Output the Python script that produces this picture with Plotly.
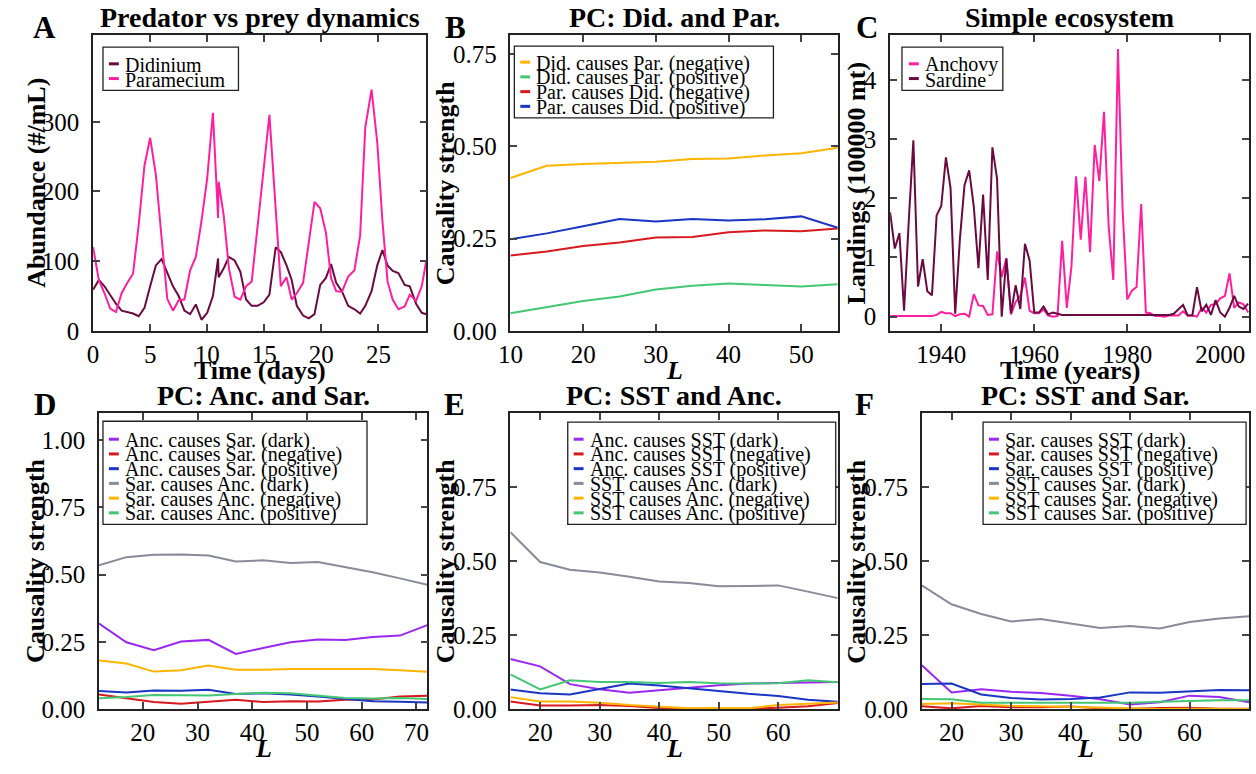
import plotly.graph_objects as go

W, H = 1256, 774
FONT = "Liberation Serif"

# ---------------- Panel A: predator vs prey ----------------
time_days = [0, 0.5, 1, 1.5, 2, 2.5, 3, 3.5, 4, 4.5, 5, 5.5, 6, 6.5, 7, 7.5, 8, 8.5, 9, 9.5,
             10, 10.5, 10.95, 11.0, 11.45, 11.9, 12.4, 12.9, 13.4, 13.9, 14.4, 14.95, 15.45,
             16.0, 16.45, 16.95, 17.4, 17.85, 18.4, 18.9, 19.4, 19.9, 20.4, 20.85, 21.3, 21.8,
             22.35, 22.9, 23.4, 23.85, 24.4, 24.9, 25.35, 25.8, 26.25, 26.75, 27.3, 27.75,
             28.3, 28.8, 29.2]
didinium = [59, 73, 64, 52, 39, 29, 27, 25, 21, 33, 64, 94, 103, 83, 64, 50, 29, 24, 38, 16,
            26, 50, 104, 77, 90, 106, 101, 85, 45, 36, 36, 41, 52, 120, 113, 94, 73, 36, 22, 18,
            24, 66, 76, 96, 69, 57, 36, 31, 25, 36, 57, 94, 116, 94, 86, 83, 66, 64, 39, 26, 24]
paramecium = [120, 73, 54, 32, 27, 54, 69, 82, 153, 237, 277, 224, 134, 46, 29, 44, 45, 87, 106,
              158, 219, 313, 162, 214, 165, 90, 49, 45, 64, 71, 148, 230, 310, 175, 64, 77, 45,
              54, 69, 127, 185, 176, 141, 76, 57, 56, 78, 87, 137, 292, 346, 270, 158, 71, 45,
              31, 35, 52, 43, 64, 101]

# ---------------- Panel B: PC Did. and Par. ----------------
L_B = [10, 15, 20, 25, 30, 35, 40, 45, 50, 55]
did_par_neg = [0.414, 0.447, 0.452, 0.454, 0.458, 0.465, 0.467, 0.475, 0.481, 0.496]
did_par_pos = [0.048, 0.065, 0.081, 0.093, 0.112, 0.122, 0.128, 0.124, 0.120, 0.126]
par_did_neg = [0.204, 0.215, 0.230, 0.239, 0.253, 0.254, 0.267, 0.272, 0.270, 0.277]
par_did_pos = [0.248, 0.264, 0.283, 0.303, 0.296, 0.303, 0.299, 0.302, 0.310, 0.279]

# ---------------- Panel C: anchovy / sardine landings ----------------
years = list(range(1929, 2007))
anchovy = [0.01, 0.01, 0.01, 0.01, 0.01, 0.01, 0.01, 0.01, 0.01, 0.01,
           0.03, 0.08, 0.06, 0.06, 0.01, 0.04, 0.05, 0.0, 0.38, 0.19,
           0.18, 0.03, 0.04, 1.10, 0.67, 0.99, 0.04, 0.25, 0.35, 0.66,
           0.10, 0.06, 0.06, 0.12, 0.02, 0.0, 0.01, 1.28, 0.15, 0.85,
           2.37, 1.30, 2.36, 1.09, 2.90, 2.29, 3.46, 1.53, 0.62, 4.52,
           1.81, 0.29, 0.44, 0.50, 1.90, 0.07, 0.06, 0.01, 0.01, 0.0,
           0.02, 0.02, 0.02, 0.09, 0.02, 0.02, 0.0, 0.15, 0.07, 0.20,
           0.21, 0.31, 0.35, 0.73, 0.15, 0.24, 0.21, 0.07]
sardine = [1.76, 1.15, 1.41, 0.10, 1.60, 2.98, 0.51, 0.97, 0.43, 0.36,
           1.71, 1.87, 2.69, 2.17, 0.05, 1.30, 2.22, 2.47, 1.86, 0.82,
           2.06, 0.62, 2.86, 2.33, 0.0, 0.98, 0.06, 0.53, 0.13, 1.23,
           0.95, 0.07, 0.07, 0.17, 0.04, 0.07, 0.05, 0.03, 0.03, 0.03,
           0.03, 0.03, 0.03, 0.03, 0.03, 0.03, 0.03, 0.03, 0.03, 0.03,
           0.03, 0.03, 0.03, 0.03, 0.03, 0.03, 0.03, 0.03, 0.03, 0.03,
           0.03, 0.05, 0.12, 0.20, 0.02, 0.02, 0.50, 0.09, 0.20, 0.03,
           0.28, 0.07, 0.0, 0.15, 0.35, 0.17, 0.13, 0.22]

# ---------------- Panel D: PC Anc. and Sar. ----------------
L_D = [12, 17, 22, 27, 32, 37, 42, 47, 52, 57, 62, 67, 72]
anc_sar_dark = [0.318, 0.248, 0.219, 0.251, 0.257, 0.205, 0.227, 0.248, 0.258, 0.257, 0.268, 0.273, 0.312]
anc_sar_neg = [0.054, 0.040, 0.026, 0.019, 0.026, 0.034, 0.026, 0.029, 0.028, 0.034, 0.035, 0.046, 0.049]
anc_sar_pos = [0.067, 0.061, 0.069, 0.068, 0.071, 0.056, 0.058, 0.054, 0.046, 0.037, 0.029, 0.027, 0.024]
sar_anc_dark = [0.535, 0.565, 0.574, 0.575, 0.571, 0.549, 0.553, 0.543, 0.547, 0.529, 0.509, 0.486, 0.462]
sar_anc_neg = [0.180, 0.169, 0.139, 0.144, 0.162, 0.146, 0.146, 0.149, 0.149, 0.149, 0.149, 0.144, 0.138]
sar_anc_pos = [0.040, 0.044, 0.052, 0.052, 0.050, 0.056, 0.060, 0.058, 0.049, 0.041, 0.039, 0.041, 0.037]

# ---------------- Panel E: PC SST and Anc. ----------------
L_EF = [15, 20, 25, 30, 35, 40, 45, 50, 55, 60, 65, 70]
anc_sst_dark = [0.169, 0.144, 0.084, 0.067, 0.055, 0.064, 0.073, 0.080, 0.086, 0.087, 0.088, 0.091]
anc_sst_neg = [0.025, 0.012, 0.012, 0.013, 0.010, 0.003, 0.001, 0.001, 0.001, 0.004, 0.009, 0.020]
anc_sst_pos = [0.066, 0.053, 0.049, 0.067, 0.086, 0.079, 0.069, 0.060, 0.051, 0.044, 0.031, 0.024]
sst_anc_dark = [0.598, 0.497, 0.471, 0.462, 0.447, 0.431, 0.426, 0.415, 0.416, 0.418, 0.397, 0.375]
sst_anc_neg = [0.040, 0.025, 0.025, 0.021, 0.013, 0.007, 0.002, 0.003, 0.002, 0.013, 0.018, 0.022]
sst_anc_pos = [0.117, 0.066, 0.097, 0.091, 0.091, 0.088, 0.091, 0.087, 0.086, 0.087, 0.097, 0.090]

# ---------------- Panel F: PC SST and Sar. ----------------
sar_sst_dark = [0.148, 0.056, 0.067, 0.058, 0.054, 0.045, 0.033, 0.015, 0.023, 0.045, 0.040, 0.023]
sar_sst_neg = [0.009, 0.002, 0.010, 0.006, 0.006, 0.008, 0.002, 0.001, 0.003, 0.004, 0.001, 0.001]
sar_sst_pos = [0.084, 0.086, 0.049, 0.037, 0.032, 0.034, 0.039, 0.056, 0.055, 0.060, 0.064, 0.063]
sst_sar_dark = [0.418, 0.354, 0.321, 0.296, 0.304, 0.289, 0.274, 0.281, 0.272, 0.294, 0.306, 0.314]
sst_sar_neg = [0.017, 0.019, 0.015, 0.010, 0.009, 0.007, 0.003, 0.001, 0.0, 0.001, 0.0, 0.0]
sst_sar_pos = [0.034, 0.033, 0.021, 0.021, 0.021, 0.020, 0.020, 0.021, 0.024, 0.027, 0.029, 0.029]

# ---------------- styles ----------------
C_DARK = "#6b0a40"
C_PINK = "#ff1f9e"
C_YEL = "#ffb400"
C_GRN = "#44c775"
C_RED = "#d8191e"
C_BLU = "#1a35c4"
C_PUR = "#9b28f0"
C_GRY = "#8a8a9a"

panels = {
    # key: (x px0, x px1, y top px, y bottom px)
    "A": (81, 418, 36, 337),
    "B": (503, 834, 36, 337),
    "C": (887, 1250, 36, 337),
    "D": (87, 419, 421, 722),
    "E": (503, 834, 421, 722),
    "F": (919, 1250, 421, 722),
}
axis_ids = {"A": "", "B": "2", "C": "3", "D": "4", "E": "5", "F": "6"}

series = {
    "A": (time_days, [("Didinium", didinium, C_DARK), ("Paramecium", paramecium, C_PINK)]),
    "B": (L_B, [("Did. causes Par. (negative)", did_par_neg, C_YEL),
                ("Did. causes Par. (positive)", did_par_pos, C_GRN),
                ("Par. causes Did. (negative)", par_did_neg, C_RED),
                ("Par. causes Did. (positive)", par_did_pos, C_BLU)]),
    "C": (years, [("Anchovy", anchovy, C_PINK), ("Sardine", sardine, C_DARK)]),
    "D": (L_D, [("Anc. causes Sar. (dark)", anc_sar_dark, C_PUR),
                ("Anc. causes Sar. (negative)", anc_sar_neg, C_RED),
                ("Anc. causes Sar. (positive)", anc_sar_pos, C_BLU),
                ("Sar. causes Anc. (dark)", sar_anc_dark, C_GRY),
                ("Sar. causes Anc. (negative)", sar_anc_neg, C_YEL),
                ("Sar. causes Anc. (positive)", sar_anc_pos, C_GRN)]),
    "E": (L_EF, [("Anc. causes SST (dark)", anc_sst_dark, C_PUR),
                 ("Anc. causes SST (negative)", anc_sst_neg, C_RED),
                 ("Anc. causes SST (positive)", anc_sst_pos, C_BLU),
                 ("SST causes Anc. (dark)", sst_anc_dark, C_GRY),
                 ("SST causes Anc. (negative)", sst_anc_neg, C_YEL),
                 ("SST causes Anc. (positive)", sst_anc_pos, C_GRN)]),
    "F": (L_EF, [("Sar. causes SST (dark)", sar_sst_dark, C_PUR),
                 ("Sar. causes SST (negative)", sar_sst_neg, C_RED),
                 ("Sar. causes SST (positive)", sar_sst_pos, C_BLU),
                 ("SST causes Sar. (dark)", sst_sar_dark, C_GRY),
                 ("SST causes Sar. (negative)", sst_sar_neg, C_YEL),
                 ("SST causes Sar. (positive)", sst_sar_pos, C_GRN)]),
}

ranges = {
    "A": ([0, 29.2], [0, 424], [0, 5, 10, 15, 20, 25], [0, 100, 200, 300], None),
    "B": ([10, 55], [0, 0.8], [10, 20, 30, 40, 50], [0, 0.25, 0.5, 0.75], ".2f"),
    "C": ([1929, 2006.2], [-0.24, 4.75], [1940, 1960, 1980, 2000], [0, 1, 2, 3, 4], None),
    "D": ([12, 72], [0, 1.1], [20, 30, 40, 50, 60, 70], [0, 0.25, 0.5, 0.75, 1.0], ".2f"),
    "E": ([15, 70], [0, 1.0], [20, 30, 40, 50, 60], [0, 0.25, 0.5, 0.75], ".2f"),
    "F": ([15, 70], [0, 1.0], [20, 30, 40, 50, 60], [0, 0.25, 0.5, 0.75], ".2f"),
}

TICKFONT = dict(family=FONT, size=25, color="black")

fig = go.Figure()
layout_axes = {}
for key, (px0, px1, pyt, pyb) in panels.items():
    sid = axis_ids[key]
    xs, lst = series[key]
    for name, vals, col in lst:
        fig.add_trace(go.Scatter(x=xs, y=vals, mode="lines", name=name,
                                 line=dict(color=col, width=2),
                                 xaxis="x" + sid, yaxis="y" + sid, showlegend=False))
    xr, yr, xt, yt, yfmt = ranges[key]
    common = dict(showgrid=False, zeroline=False, showline=True, linecolor="#222",
                  linewidth=1.5, mirror="ticks", ticks="inside", ticklen=7, tickwidth=1.5,
                  tickcolor="#444")
    layout_axes["xaxis" + sid] = dict(common, domain=[px0 / W, px1 / W], range=xr,
                                      tickvals=xt, anchor="y" + sid, tickfont=TICKFONT)
    ydict = dict(common, domain=[1 - pyb / H, 1 - pyt / H], range=yr,
                 tickvals=yt, anchor="x" + sid, ticklabelstandoff=7, tickfont=TICKFONT)
    if yfmt:
        ydict["tickformat"] = yfmt
    layout_axes["yaxis" + sid] = ydict

fig.update_layout(**layout_axes)

annotations = []
def px_ann(text, x, y, size, xanchor="center", yanchor="middle", angle=0):
    annotations.append(dict(text=text, x=x / W, y=1 - y / H, xref="paper", yref="paper",
                            showarrow=False, xanchor=xanchor, yanchor=yanchor, textangle=angle,
                            font=dict(family=FONT, size=size, color="black")))

# panel letters
for letter, (x, y) in {"A": (32, 28), "B": (447, 28), "C": (864, 28),
                       "D": (32, 412), "E": (446, 412), "F": (861, 412)}.items():
    px_ann("<b>" + letter + "</b>", x, y, 31)

titles = {"A": "Predator vs prey dynamics", "B": "PC: Did. and Par.", "C": "Simple ecosystem",
          "D": "PC: Anc. and Sar.", "E": "PC: SST and Anc.", "F": "PC: SST and Sar."}
xtitles = {"A": "Time (days)", "B": "<i>L</i>", "C": "Time (years)",
           "D": "<i>L</i>", "E": "<i>L</i>", "F": "<i>L</i>"}
ytitles = {"A": ("Abundance (#/mL)", 23), "B": ("Causality strength", 437),
           "C": ("Landings (100000 mt)", 853), "D": ("Causality strength", 22),
           "E": ("Causality strength", 437), "F": ("Causality strength", 853)}
for key, (px0, px1, pyt, pyb) in panels.items():
    cx = (px0 + px1) / 2
    cy = (pyt + pyb) / 2
    px_ann("<b>" + titles[key] + "</b>", cx, pyt - 18, 28)
    px_ann("<b>" + xtitles[key] + "</b>", cx, pyb + 40, 26)
    t, yx = ytitles[key]
    px_ann("<b>" + t + "</b>", yx, cy, 26, angle=-90)

# legends (boxed, compact)
legend_boxes = {
    # key: (x0, y0, x1, y1, swatch x, text x, first row y)
    "A": (91, 48, 228, 92, 97, 111, 65),
    "B": (507, 47, 769, 120, 513, 527, 63.3),
    "C": (899, 48, 1001, 92, 906, 920, 65),
    "D": (91, 429, 358, 534, 97, 111, 447.3),
    "E": (561, 430, 832, 534, 567, 581, 447.3),
    "F": (981, 430, 1247, 534, 987, 1001, 447.3),
}
shapes = []
for key, (bx0, by0, bx1, by1, swx, tx, ry) in legend_boxes.items():
    shapes.append(dict(type="rect", xref="paper", yref="paper", x0=bx0 / W, x1=bx1 / W,
                       y0=1 - by1 / H, y1=1 - by0 / H, line=dict(color="#222", width=1.3),
                       fillcolor="white", layer="above"))
    for i, (name, vals, col) in enumerate(series[key][1]):
        yy = ry + 15 * i
        shapes.append(dict(type="line", xref="paper", yref="paper", x0=swx / W,
                           x1=(swx + 10) / W, y0=1 - yy / H, y1=1 - yy / H,
                           line=dict(color=col, width=3), layer="above"))
        px_ann(name, tx, yy + 1, 20, xanchor="left")

fig.update_layout(width=W, height=H, margin=dict(l=0, r=0, t=0, b=0),
                  paper_bgcolor="white", plot_bgcolor="white", showlegend=False,
                  annotations=annotations, shapes=shapes,
                  font=dict(family=FONT, color="black"))

fig.write_html("out.html", config={"displayModeBar": False},
               post_script="document.body.style.margin='0';document.body.style.overflow='hidden';")
